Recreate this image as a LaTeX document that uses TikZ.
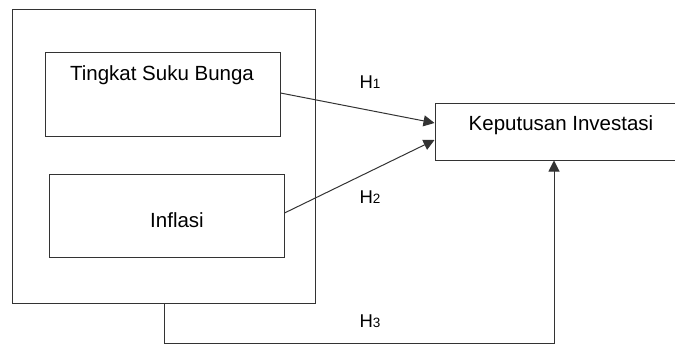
\documentclass[tikz,border=0pt]{standalone}
\usepackage{fontspec}
\setmainfont{Liberation Sans}
\usetikzlibrary{arrows.meta,calc}
\begin{document}
\begin{tikzpicture}[x=1pt,y=-1pt,
  box/.style={draw=black!80,line width=1pt,inner sep=0pt},
  txt/.style={font=\fontsize{20.5}{24}\selectfont,inner sep=0pt},
  hlab/.style={font=\fontsize{18.5}{20}\selectfont,inner sep=0pt},
  conn/.style={draw=black!80,line width=1pt,-{Triangle[length=11pt,width=11pt]}}]
\useasboundingbox (0,0) rectangle (675,345);
\node[box,minimum width=303pt,minimum height=293pt] (outer) at (163.5,156.5) {};
\node[box,minimum width=235pt,minimum height=83pt] (b1) at (162.5,94.5) {};
\node[box,minimum width=235pt,minimum height=83pt] (b2) at (166.5,215.5) {};
\node[box,minimum width=250pt,minimum height=57pt] (kep) at (560,131.5) {};
\node[txt] (t1) at (162,75) {Tingkat Suku Bunga};
\node[txt] (t2) at (177,220) {Inflasi};
\node[txt] (t3) at (561,125) {Keputusan Investasi};
\draw[conn] (b1.east |- 0,93) -- (kep.west |- 0,123);
\draw[conn] (b2.east |- 0,213) -- (kep.west |- 0,140);
\coordinate (c1) at (164,343);
\draw[conn] (outer.south -| c1) -- (c1) -| ($(kep.south)+(-6,0)$);
\node[hlab] (h1) at (370,82) {H{\fontsize{13.5}{15}\selectfont 1}};
\node[hlab] (h2) at (370,197) {H{\fontsize{13.5}{15}\selectfont 2}};
\node[hlab] (h3) at (370,321) {H{\fontsize{13.5}{15}\selectfont 3}};
\end{tikzpicture}
\end{document}
